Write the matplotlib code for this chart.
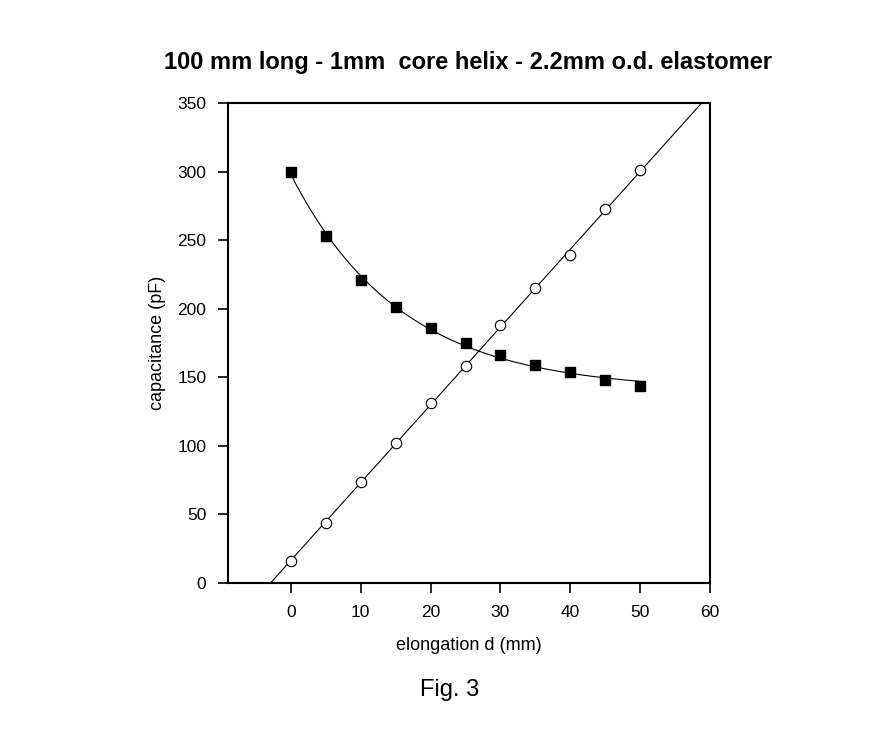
import numpy as np
import matplotlib
matplotlib.use("Agg")
from matplotlib import pyplot as plt

plt.rcParams['font.family'] = ['Liberation Sans', 'DejaVu Sans']

# elongation d (mm)
elong = [0, 5, 10, 15, 20, 25, 30, 35, 40, 45, 50]
# capacitance (pF), filled squares
cap_sq = [300, 253, 221, 201, 186, 175, 166, 159, 154, 148, 144]
# capacitance (pF), open circles
cap_ci = [16, 44, 74, 102, 131, 158, 188, 215, 239, 273, 301]

title = "100 mm long - 1mm  core helix - 2.2mm o.d. elastomer"
x_ticks = [0, 10, 20, 30, 40, 50, 60]
y_ticks = [0, 50, 100, 150, 200, 250, 300, 350]


def exp_fit(x, y):
    # y = a + b*exp(-x/t), scan t and solve a, b by least squares
    best = None
    for t in np.linspace(2, 60, 581):
        A = np.column_stack([np.ones_like(x), np.exp(-x / t)])
        coef, res, _, _ = np.linalg.lstsq(A, y, rcond=None)
        err = np.sum((A @ coef - y) ** 2)
        if best is None or err < best[0]:
            best = (err, t, coef)
    return best[1], best[2]


fig = plt.figure(figsize=(8.76, 7.51), dpi=100)
ax = fig.add_axes([228 / 876, 168 / 751, 482 / 876, 480 / 751])

x = np.array(elong, dtype=float)

t, (a, b) = exp_fit(x, np.array(cap_sq, dtype=float))
xs = np.linspace(0, 50, 200)
ax.plot(xs, a + b * np.exp(-xs / t), color="black", lw=0.8)

# straight line fit through the circles, running across the whole box
m, c = np.polyfit(x, cap_ci, 1)
xl = np.linspace(-9, 60, 200)
ax.plot(xl, m * xl + c, color="black", lw=0.8)

ax.plot(x, cap_sq, "s", color="black", ms=7)
ax.plot(x, cap_ci, "o", mfc="white", mec="black", mew=0.8, ms=7.5)

ax.set_xlim(-9, 60)
ax.set_ylim(0, 350)
ax.set_xticks(x_ticks)
ax.set_yticks(y_ticks)
ax.tick_params(direction="out", length=7.5, width=1.2, labelsize=12.5, pad=8)
for s in ax.spines.values():
    s.set_linewidth(1.5)

ax.set_xlabel("elongation d (mm)", fontsize=13)
ax.set_ylabel("capacitance (pF)", fontsize=13)
ax.yaxis.set_label_coords(-(228 - 166) / 482, 0.5)
ax.xaxis.set_label_coords(0.5, -(637 - 583) / 480)

fig.text(468 / 876, 1 - 63 / 751, title, ha="center", va="center",
         fontsize=17, fontweight="bold")
fig.text(450 / 876, 1 - 690 / 751, "Fig. 3", ha="center", va="center",
         fontsize=17)

fig.savefig("out.png", dpi=100)
